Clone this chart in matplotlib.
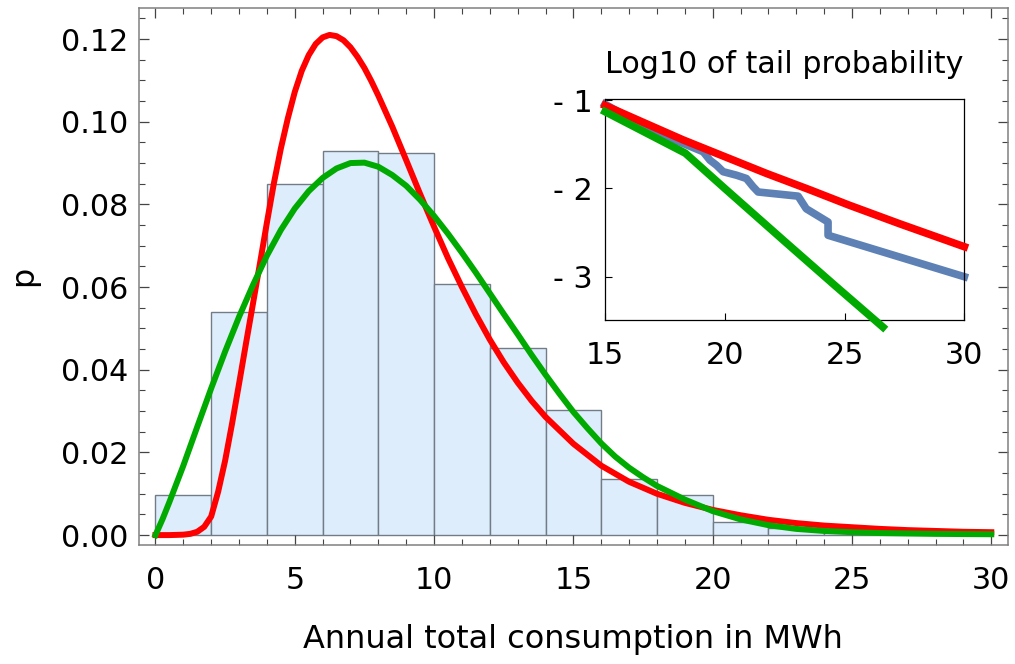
import matplotlib
matplotlib.use("Agg")
import matplotlib.pyplot as plt
from matplotlib.ticker import MultipleLocator, FormatStrFormatter

# histogram of annual consumption, 2 MWh bins (density)
bin_left = [0, 2, 4, 6, 8, 10, 12, 14, 16, 18, 20, 22, 24, 26, 28]
bin_height = [0.0096, 0.0539, 0.0850, 0.0930, 0.0925, 0.0608, 0.0453, 0.0302,
              0.0136, 0.0097, 0.0032, 0.0018, 0.0010, 0.0004, 0.0003]

# fitted density (red)
red_x = [0.0, 0.5, 1.0, 1.25, 1.5, 1.75, 2.0, 2.25, 2.5, 2.75, 3.0, 3.25,
         3.5, 3.75, 4.0, 4.25, 4.5, 4.75, 5.0, 5.25, 5.5, 5.75, 6.0, 6.25,
         6.5, 6.75, 7.0, 7.25, 7.5, 7.75, 8.0, 8.5, 9.0, 9.5, 10.0, 10.5,
         11.0, 11.5, 12.0, 12.5, 13.0, 13.5, 14.0, 15.0, 16.0, 17.0, 18.0,
         19.0, 20.0, 21.0, 22.0, 23.0, 24.0, 25.0, 26.0, 27.0, 28.0, 29.0,
         30.0]
red_p = [0.0, 0.0, 0.0001, 0.0003, 0.0008, 0.0020, 0.0045, 0.0105, 0.0180,
         0.0270, 0.0366, 0.0464, 0.0560, 0.0657, 0.0756, 0.0851, 0.0935,
         0.1008, 0.1072, 0.1123, 0.1161, 0.1188, 0.1204, 0.1210, 0.1207,
         0.1197, 0.1180, 0.1157, 0.1130, 0.1098, 0.1063, 0.0988, 0.0907,
         0.0825, 0.0746, 0.0670, 0.0600, 0.0534, 0.0473, 0.0418, 0.0369,
         0.0325, 0.0286, 0.0221, 0.0168, 0.0129, 0.0100, 0.0078, 0.0061,
         0.0048, 0.0037, 0.0029, 0.0023, 0.0019, 0.0015, 0.0012, 0.0010,
         0.0008, 0.0007]

# fitted density (green)
green_x = [0.0, 0.25, 0.5, 0.75, 1.0, 1.5, 2.0, 2.5, 3.0, 3.5, 4.0, 4.5, 5.0,
           5.5, 6.0, 6.5, 7.0, 7.5, 8.0, 8.5, 9.0, 9.5, 10.0, 10.5, 11.0,
           11.5, 12.0, 12.5, 13.0, 13.5, 14.0, 14.5, 15.0, 15.5, 16.0, 16.5,
           17.0, 17.5, 18.0, 19.0, 20.0, 21.0, 22.0, 23.0, 24.0, 25.0, 26.0,
           27.0, 28.0, 30.0]
green_p = [0.0, 0.0038, 0.0080, 0.0124, 0.0168, 0.0262, 0.0355, 0.0444,
           0.0528, 0.0605, 0.0676, 0.0738, 0.0790, 0.0832, 0.0864, 0.0887,
           0.0900, 0.0901, 0.0891, 0.0871, 0.0845, 0.0811, 0.0772, 0.0729,
           0.0683, 0.0635, 0.0585, 0.0535, 0.0486, 0.0436, 0.0388, 0.0342,
           0.0298, 0.0259, 0.0222, 0.0190, 0.0163, 0.0140, 0.0119, 0.0086,
           0.0058, 0.0038, 0.0024, 0.0015, 0.0010, 0.0007, 0.0005, 0.0004,
           0.0003, 0.0002]

# log10 of tail probability, 15..30 MWh
tail_red_x = [15.0, 16.5, 18.26, 20.0, 21.74, 23.5, 25.2, 27.3, 30.0]
tail_red_y = [-1.06, -1.24, -1.45, -1.64, -1.83, -2.01, -2.19, -2.40, -2.66]

tail_emp_x = [15.0, 17.01, 18.26, 19.10, 19.38, 19.65, 19.93, 20.49, 20.90,
              21.18, 21.39, 23.06, 23.40, 24.31, 24.31, 30.0]
tail_emp_y = [-1.045, -1.36, -1.49, -1.585, -1.68, -1.736, -1.81, -1.85,
              -1.887, -1.98, -2.04, -2.087, -2.23, -2.38, -2.53, -3.0]

tail_green_x = [15.0, 18.35, 20.0, 22.5, 24.6, 26.6]
tail_green_y = [-1.13, -1.60, -2.00, -2.60, -3.10, -3.57]

RED = "#ff0000"
GREEN = "#00aa00"
BLUE = "#5e81b5"

fig = plt.figure(figsize=(10.15, 6.64), dpi=100)
ax = fig.add_axes([0.1367, 0.1792, 0.8564, 0.8093])

ax.bar(bin_left, bin_height, width=2, align="edge", color="#ddedfc",
       edgecolor="#727c87", linewidth=1.0, zorder=1)
ax.plot(red_x, red_p, color=RED, lw=4.3, zorder=3)
ax.plot(green_x, green_p, color=GREEN, lw=4.3, zorder=4)

ax.set_xlim(-0.6, 30.6)
ax.set_ylim(-0.0024, 0.1276)
ax.xaxis.set_major_locator(MultipleLocator(5))
ax.xaxis.set_minor_locator(MultipleLocator(1))
ax.yaxis.set_major_locator(MultipleLocator(0.02))
ax.yaxis.set_minor_locator(MultipleLocator(0.005))
ax.yaxis.set_major_formatter(FormatStrFormatter("%.2f"))

ax.tick_params(which="both", direction="in", top=True, right=True,
               color="#444444", labelcolor="black", labelsize=21.7)
ax.tick_params(which="major", length=7, width=0.9)
ax.tick_params(which="minor", length=4.5, width=0.8)
ax.tick_params(axis="x", pad=15)
ax.tick_params(axis="y", pad=7.5)
for sp in ax.spines.values():
    sp.set_color("#808080")
    sp.set_linewidth(1.1)

ax.set_xlabel("Annual total consumption in MWh", fontsize=23, labelpad=21)
ax.set_ylabel("p", fontsize=23, labelpad=16)

# inset with the tails
axin = fig.add_axes([0.5961, 0.51807, 0.3540, 0.33238])
axin.plot(tail_emp_x, tail_emp_y, color=BLUE, lw=5.5, clip_on=False, zorder=2)
axin.plot(tail_red_x, tail_red_y, color=RED, lw=5.5, clip_on=False, zorder=3)
axin.plot(tail_green_x, tail_green_y, color=GREEN, lw=5.5, clip_on=False, zorder=4)
axin.set_xlim(15, 30)
axin.set_ylim(-3.49, -0.99)
axin.set_xticks([15, 20, 25, 30])
axin.set_yticks([-1, -2, -3])
axin.set_yticklabels(["- 1", "- 2", "- 3"])
axin.tick_params(direction="in", length=4.8, width=0.8, color="black",
                 labelsize=21.7)
axin.tick_params(axis="x", pad=15)
axin.tick_params(axis="y", pad=8.6)
for sp in axin.spines.values():
    sp.set_color("black")
    sp.set_linewidth(0.9)
axin.set_title("Log10 of tail probability", fontsize=21.7, pad=19)

fig.savefig("out.png", dpi=100)
